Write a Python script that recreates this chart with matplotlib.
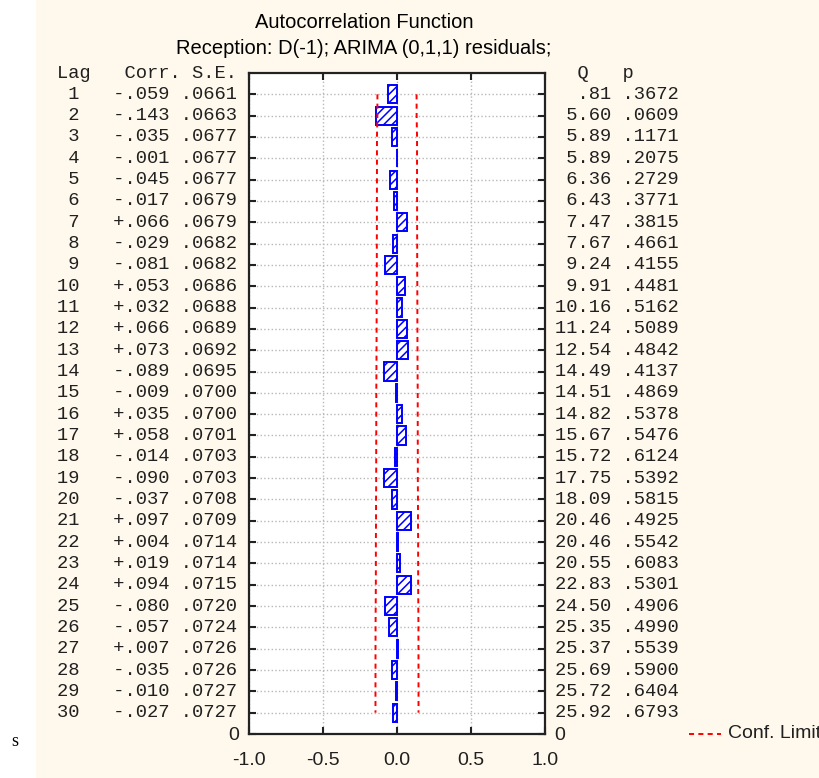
#!/usr/bin/env python3
"""Autocorrelation function of ARIMA (0,1,1) residuals, STATISTICA-style table plot."""

import matplotlib
matplotlib.use('Agg')
import matplotlib.pyplot as plt
import matplotlib.transforms as mtransforms
from matplotlib.lines import Line2D
from matplotlib.patches import Rectangle

# Table values read from the output
lags = list(range(1, 31))
corr = [-0.059, -0.143, -0.035, -0.001, -0.045, -0.017, 0.066, -0.029, -0.081, 0.053,
        0.032, 0.066, 0.073, -0.089, -0.009, 0.035, 0.058, -0.014, -0.090, -0.037,
        0.097, 0.004, 0.019, 0.094, -0.080, -0.057, 0.007, -0.035, -0.010, -0.027]
std_err = [0.0661, 0.0663, 0.0677, 0.0677, 0.0677, 0.0679, 0.0679, 0.0682, 0.0682, 0.0686,
           0.0688, 0.0689, 0.0692, 0.0695, 0.0700, 0.0700, 0.0701, 0.0703, 0.0703, 0.0708,
           0.0709, 0.0714, 0.0714, 0.0715, 0.0720, 0.0724, 0.0726, 0.0726, 0.0727, 0.0727]
q_stat = [0.81, 5.60, 5.89, 5.89, 6.36, 6.43, 7.47, 7.67, 9.24, 9.91,
          10.16, 11.24, 12.54, 14.49, 14.51, 14.82, 15.67, 15.72, 17.75, 18.09,
          20.46, 20.46, 20.55, 22.83, 24.50, 25.35, 25.37, 25.69, 25.72, 25.92]
p_val = [0.3672, 0.0609, 0.1171, 0.2075, 0.2729, 0.3771, 0.3815, 0.4661, 0.4155, 0.4481,
         0.5162, 0.5089, 0.4842, 0.4137, 0.4869, 0.5378, 0.5476, 0.6124, 0.5392, 0.5815,
         0.4925, 0.5542, 0.6083, 0.5301, 0.4906, 0.4990, 0.5539, 0.5900, 0.6404, 0.6793]
x_ticks = [-1.0, -0.5, 0.0, 0.5, 1.0]

W, H = 820, 778
BG = '#fff8ec'
TXT = '#202020'
MONO = 'Liberation Mono'
SANS = 'Liberation Sans'


def strip_zero(s):
    """'0.059' -> '.059' like the original printout."""
    return s[1:] if s.startswith('0') else s


def main():
    plt.rcParams['hatch.linewidth'] = 1.1
    fig = plt.figure(figsize=(W / 100, H / 100), dpi=100, facecolor=BG)
    # white page margin on the left
    fig.patches.append(Rectangle((0, 0), 36 / W, 1, transform=fig.transFigure,
                                 facecolor='white', edgecolor='none', zorder=0))
    fig.text(15 / W, 1 - 741 / H, 's', family='Liberation Serif', fontsize=13,
             color='black', ha='center', va='center')

    ax = fig.add_axes([249 / W, 1 - 734 / H, 296 / W, 661 / H])
    ax.set_facecolor('white')

    n = len(lags)
    ypos = [n + 1 - k for k in lags]

    # correlation bars
    ax.barh(ypos, corr, height=0.85, left=0, color='white', edgecolor='#0000ff',
            hatch='////', linewidth=1.4, zorder=3)

    # confidence limits (+/- 2 S.E.)
    upper = [2 * s for s in std_err]
    lower = [-2 * s for s in std_err]
    conf_style = dict(color='#ff0000', linewidth=1.4, linestyle=(0, (2.6, 2.2)), zorder=4)
    ax.plot(upper, ypos, **conf_style)
    ax.plot(lower, ypos, **conf_style)

    ax.set_xlim(-1.0, 1.0)
    ax.set_ylim(0, n + 1)
    ax.set_xticks(x_ticks)
    ax.set_xticklabels([f'{v:.1f}' for v in x_ticks], family=SANS, fontsize=14, color=TXT)
    ax.set_yticks([0] + ypos)
    ax.set_yticklabels(['0'] + [''] * n, family=SANS, fontsize=14, color=TXT)

    ax.tick_params(axis='x', direction='in', length=5, width=1.5, pad=13,
                   top=True, bottom=True, color='#222222')
    ax.tick_params(axis='y', direction='in', length=5, width=1.5, pad=7,
                   left=True, right=True, labelright=True, color='#222222')
    ax.grid(True, color='#b8b8b8', linestyle=':', linewidth=1.0, zorder=1)
    ax.set_axisbelow(True)
    for sp in ax.spines.values():
        sp.set_linewidth(1.6)
        sp.set_color('#222222')

    # titles
    fig.text(364 / W, 1 - 22 / H, 'Autocorrelation Function', family=SANS,
             fontsize=14.5, ha='center', va='center', color='black')
    fig.text(364 / W, 1 - 49 / H, 'Reception: D(-1); ARIMA (0,1,1) residuals;',
             family=SANS, fontsize=14.5, ha='center', va='center', color='black')

    # table text, rows tied to the axes rows
    trans = mtransforms.blended_transform_factory(fig.transFigure, ax.transData)
    mono = dict(family=MONO, fontsize=13.5, color=TXT, va='center', ha='left',
                transform=trans)
    fig.text(57 / W, n + 1, 'Lag   Corr. S.E.', **mono)
    fig.text(555 / W, n + 1, '  Q   p', **mono)
    for k, c, s, q, p, y in zip(lags, corr, std_err, q_stat, p_val, ypos):
        sign = '+' if c >= 0 else '-'
        left_row = f'{k:>2}   {sign}{strip_zero(f"{abs(c):.3f}")} {strip_zero(f"{s:.4f}")}'
        right_row = f'{strip_zero(f"{q:.2f}"):>5} {strip_zero(f"{p:.4f}")}'
        fig.text(57 / W, y, left_row, **mono)
        fig.text(555 / W, y, right_row, **mono)

    # legend entry for confidence limits (text runs off the right edge as in the source)
    fig.add_artist(Line2D([689 / W, 721 / W], [1 - 734 / H, 1 - 734 / H],
                          transform=fig.transFigure, **conf_style))
    fig.text(728 / W, 1 - 734 / H, 'Conf. Limit', family=SANS, fontsize=14,
             ha='left', va='center', color=TXT)

    fig.savefig('out.png', dpi=100, facecolor=BG)


if __name__ == '__main__':
    main()
